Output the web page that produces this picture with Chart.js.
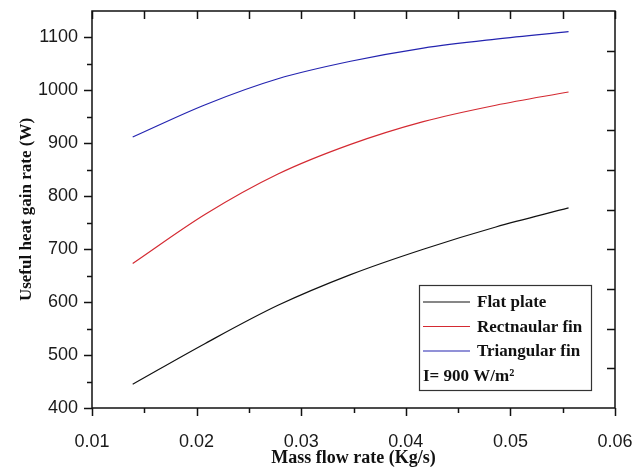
<!DOCTYPE html>
<html>
<head>
<meta charset="utf-8">
<script src="https://cdn.jsdelivr.net/npm/chart.js@4/dist/chart.umd.min.js"></script>
<style>
  body { margin: 0; background: #fff; }
  canvas { display: block; }
</style>
</head>
<body>
<canvas id="chart" width="641" height="470"></canvas>
<script>
// mass flow rate (kg/s) and useful heat gain (W)
const massFlow = [0.01389, 0.02083, 0.02778, 0.03472, 0.04167, 0.04861, 0.05556];
const flatPlate = [445, 522, 594, 652, 700, 742, 778];
const rectFin = [673, 766, 842, 898, 941, 972, 997];
const triFin = [912, 973, 1022, 1055, 1080, 1097, 1111];

const seriesNames = ['Flat plate', 'Rectnaular fin', 'Triangular fin'];
const seriesColors = ['#111111', '#d42a32', '#2424b0'];
const noteText = 'I= 900 W/m\u00B2';

// axis ticks
const xLabels = [0.01, 0.02, 0.03, 0.04, 0.05, 0.06];
const xMinor = [0.015, 0.025, 0.035, 0.045, 0.055];
const yLabels = [400, 500, 600, 700, 800, 900, 1000, 1100];
const yMinor = [450, 550, 650, 750, 850, 950, 1050];
const rightTicks = [475, 550, 625, 700, 775, 850, 925, 1000, 1075];

const toPts = arr => arr.map((v, i) => ({ x: massFlow[i], y: v }));

// frame, tick marks and the boxed legend
const framePlugin = {
  id: 'frame',
  afterDraw(chart) {
    const { ctx, chartArea: a, scales: { x, y } } = chart;
    ctx.save();
    ctx.strokeStyle = '#111';
    ctx.lineWidth = 1.5;
    ctx.strokeRect(a.left, a.top, a.right - a.left, a.bottom - a.top);

    ctx.beginPath();
    xLabels.forEach(v => {
      const px = Math.round(x.getPixelForValue(v)) + 0.5;
      ctx.moveTo(px, a.bottom); ctx.lineTo(px, a.bottom + 8);
      ctx.moveTo(px, a.top); ctx.lineTo(px, a.top + 8);
    });
    xMinor.forEach(v => {
      const px = Math.round(x.getPixelForValue(v)) + 0.5;
      ctx.moveTo(px, a.bottom); ctx.lineTo(px, a.bottom + 5);
      ctx.moveTo(px, a.top); ctx.lineTo(px, a.top + 8);
    });
    yLabels.forEach(v => {
      const py = Math.round(y.getPixelForValue(v)) + 0.5;
      ctx.moveTo(a.left, py); ctx.lineTo(a.left - 8, py);
    });
    yMinor.forEach(v => {
      const py = Math.round(y.getPixelForValue(v)) + 0.5;
      ctx.moveTo(a.left, py); ctx.lineTo(a.left - 5, py);
    });
    rightTicks.forEach(v => {
      const py = Math.round(y.getPixelForValue(v)) + 0.5;
      ctx.moveTo(a.right, py); ctx.lineTo(a.right - 8, py);
    });
    ctx.stroke();

    // legend box
    const bx = 419, by = 285, bw = 172, bh = 105;
    ctx.fillStyle = '#fff';
    ctx.fillRect(bx, by, bw, bh);
    ctx.strokeStyle = '#333';
    ctx.lineWidth = 1.2;
    ctx.strokeRect(bx + 0.5, by + 0.5, bw, bh);

    ctx.font = 'bold 17px "Liberation Serif", "Times New Roman", serif';
    ctx.textBaseline = 'middle';
    ctx.fillStyle = '#111';
    seriesNames.forEach((name, i) => {
      const ly = by + 17 + i * 24.5;
      ctx.strokeStyle = seriesColors[i];
      ctx.lineWidth = 1.2;
      ctx.beginPath();
      ctx.moveTo(bx + 4, ly); ctx.lineTo(bx + 51, ly);
      ctx.stroke();
      ctx.fillText(name, bx + 58, ly + 1);
    });
    ctx.fillText(noteText, bx + 4, by + 17 + 3 * 24.5 + 1);
    ctx.restore();
  }
};

const tickFont = { family: '"Liberation Sans", Arial, sans-serif', size: 18 };
const serif = '"Liberation Serif", "Times New Roman", serif';

new Chart(document.getElementById('chart'), {
  type: 'line',
  data: {
    datasets: [flatPlate, rectFin, triFin].map((vals, i) => ({
      label: seriesNames[i],
      data: toPts(vals),
      borderColor: seriesColors[i],
      borderWidth: 1.2,
      pointRadius: 0,
      fill: false,
      cubicInterpolationMode: 'monotone'
    }))
  },
  options: {
    responsive: false,
    animation: false,
    layout: { padding: { top: 11, right: 26, bottom: 0, left: 0 } },
    plugins: { legend: { display: false }, tooltip: { enabled: false } },
    scales: {
      x: {
        type: 'linear',
        min: 0.01,
        max: 0.06,
        afterBuildTicks: s => { s.ticks = xLabels.map(v => ({ value: v })); },
        afterFit: s => { s.height = 62; s.paddingLeft = 0; s.paddingRight = 0; },
        grid: { display: false },
        border: { display: false },
        ticks: {
          padding: 15,
          color: '#1a1a1a',
          font: tickFont,
          maxRotation: 0,
          callback: v => v.toFixed(2)
        },
        title: {
          display: true,
          text: 'Mass flow rate (Kg/s)',
          color: '#111',
          font: { family: serif, size: 18, weight: 'bold' },
          padding: { top: 2, bottom: 1 }
        }
      },
      y: {
        type: 'linear',
        min: 400,
        max: 1150,
        afterBuildTicks: s => { s.ticks = yLabels.map(v => ({ value: v })); },
        afterFit: s => { s.width = 92; s.paddingTop = 0; s.paddingBottom = 0; },
        grid: { display: false },
        border: { display: false },
        ticks: {
          padding: 6,
          color: '#1a1a1a',
          font: tickFont,
          callback: v => String(v)
        },
        title: {
          display: true,
          text: 'Useful heat gain rate (W)',
          color: '#111',
          font: { family: serif, size: 17, weight: 'bold' },
          padding: { top: 16, bottom: 0 }
        }
      }
    }
  },
  plugins: [framePlugin]
});
</script>
</body>
</html>
